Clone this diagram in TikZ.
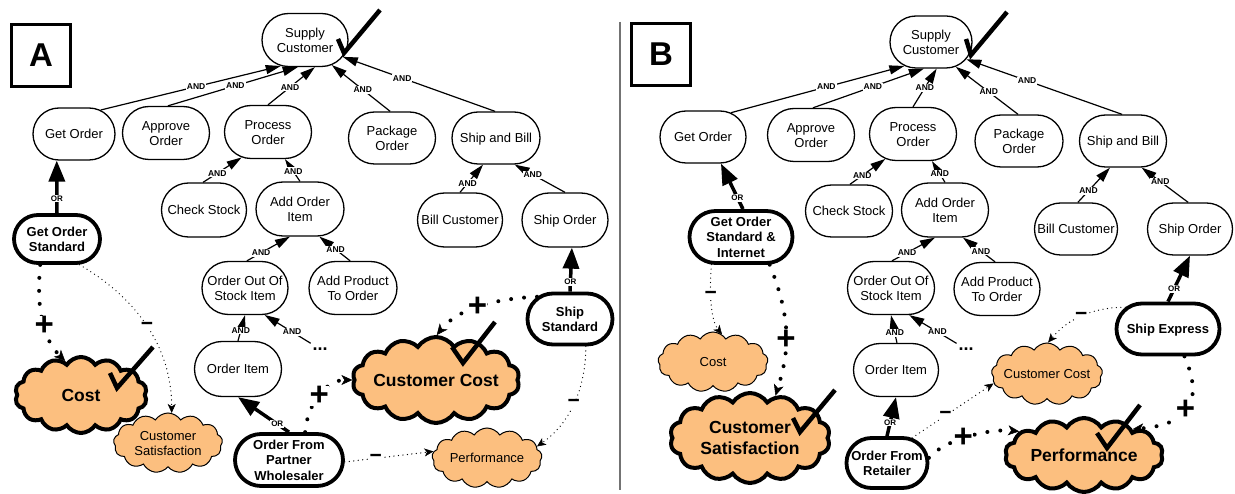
\documentclass[tikz,border=0pt]{standalone}
\usepackage{fontspec}
\setmainfont{Liberation Sans}
\usetikzlibrary{arrows.meta,shapes.symbols,shapes.misc}
\definecolor{softfill}{RGB}{252,191,127}
% centred text of zero size, so that a node's size comes from its minimum size only
\newcommand{\zbox}[1]{\raisebox{-0.37em}[0pt][0pt]{\makebox[0pt]{\begin{tabular}{@{}c@{}}#1\end{tabular}}}}
\tikzset{
  task/.style={rounded rectangle, draw, line width=1.3pt, minimum width=86pt,
    minimum height=53pt, inner sep=0pt, fill=white,
    font=\fontsize{13}{15.5}\selectfont},
  optn/.style={task, line width=3.8pt, font=\bfseries\fontsize{13}{15.5}\selectfont},
  soft/.style={cloud, cloud puffs=13, cloud puff arc=115, cloud ignores aspect, draw,
    fill=softfill, line width=1pt, inner sep=0pt, font=\fontsize{13}{15.5}\selectfont},
  softsel/.style={soft, cloud puffs=14, line width=4pt, font=\bfseries\fontsize{17.5}{21}\selectfont},
  panel/.style={draw, line width=3pt, minimum width=59pt, minimum height=62pt,
    inner sep=0pt, font=\bfseries\fontsize{33}{33}\selectfont},
  andarr/.style={line width=1.2pt, -{Triangle[length=15pt,width=9pt]}},
  orarr/.style={line width=3.5pt, -{Triangle[length=21pt,width=16pt]}},
  andlbl/.style={font=\bfseries\fontsize{8.5}{8.5}\selectfont, fill=white, inner sep=1pt},
  orlbl/.style={font=\bfseries\fontsize{8}{8}\selectfont, fill=white, inner sep=1pt},
  pluslink/.style={line width=4pt, line cap=round, dash pattern=on 0pt off 13pt,
    -{Stealth[length=11pt,width=10pt,inset=3pt,line width=0.5pt]}},
  minuslink/.style={line width=1.3pt, line cap=round, dash pattern=on 0pt off 4.5pt,
    -{Stealth[length=9pt,width=8pt,inset=2.5pt,line width=0.5pt]}},
  pm/.style={font=\bfseries\fontsize{33}{33}\selectfont, fill=white, inner sep=0pt},
  mn/.style={font=\bfseries\fontsize{21}{21}\selectfont, fill=white, inner sep=0.5pt},
  more/.style={font=\bfseries\fontsize{18}{18}\selectfont, inner sep=0pt},
  tick/.style={line width=4.5pt},
}
\begin{document}
\begin{tikzpicture}[x=1pt, y=-1pt]
\fill[white] (0,0) rectangle (1235,494);
\useasboundingbox (0,0) rectangle (1235,494);

% separator between the two panels
\draw[black!55, line width=1.5pt] (620,22) -- (620,490);

% ---------------- panel A ----------------
\node[panel] (pa) at (41,55.5) {A};

\node[task] (asc) at (305,40) {\zbox{Supply\\Customer}};
\node[task, minimum width=82pt, minimum height=52pt] (ago) at (74,134) {\zbox{Get Order}};
\node[task, minimum width=87pt] (aap) at (166,133) {\zbox{Approve\\Order}};
\node[task, minimum width=87pt] (apo) at (268,132) {\zbox{Process\\Order}};
\node[task, minimum width=87pt, minimum height=52pt] (apk) at (392,138) {\zbox{Package\\Order}};
\node[task, minimum width=88pt, minimum height=52pt] (asb) at (496,138) {\zbox{Ship and Bill}};
\node[task, minimum width=85pt, minimum height=54pt] (acs) at (204,210) {\zbox{Check Stock}};
\node[task, minimum width=88pt, minimum height=54pt] (aai) at (300,209) {\zbox{Add Order\\Item}};
\node[task] (aoos) at (245,288) {\zbox{Order Out Of\\Stock Item}};
\node[task, minimum width=88pt] (aapo) at (353,288) {\zbox{Add Product\\To Order}};
\node[task, minimum width=87pt, minimum height=55pt] (aoi) at (238,369) {\zbox{Order Item}};
\node[task, minimum width=85pt, minimum height=54pt] (abc) at (460,220) {\zbox{Bill Customer}};
\node[task, minimum height=54pt] (aso) at (565,220) {\zbox{Ship Order}};
\node[more] (adots) at (320,349) {...};

\node[optn, minimum width=86pt, minimum height=48pt] (agos) at (57,239) {\zbox{Get Order\\Standard}};
\node[optn, minimum width=85pt, minimum height=51pt] (ass) at (570,319) {\zbox{Ship\\Standard}};
\node[optn, minimum width=108pt, minimum height=52pt] (aofw) at (289,460) {\zbox{Order From\\Partner\\Wholesaler}};

\node[softsel, minimum width=132pt, minimum height=76pt] (acost) at (81,395) {\zbox{Cost}};
\node[soft, minimum width=109pt, minimum height=60pt] (acsat) at (168,443) {\zbox{Customer\\Satisfaction}};
\node[softsel, minimum width=167pt, minimum height=86pt] (acc) at (436,380) {\zbox{Customer Cost}};
\node[soft, minimum width=110pt, minimum height=60pt] (aperf) at (487,458) {\zbox{Performance}};

% decompositions
\draw[andarr] (ago.42) -- node[andlbl,pos=.53]{AND} (asc.227);
\draw[andarr] (aap.86) -- node[andlbl,pos=.52]{AND} (asc.255);
\draw[andarr] (apo.90) -- node[andlbl,pos=.47]{AND} (asc.290);
\draw[andarr] (apk.94) -- node[andlbl,pos=.47]{AND} (asc.317);
\draw[andarr] (asb.92) -- node[andlbl,pos=.61]{AND} (asc.336);
\draw[andarr] (acs.92) -- node[andlbl,pos=.37]{AND} (apo.224);
\draw[andarr] (aai.90) -- node[andlbl,pos=.45]{AND} (apo.302);
\draw[andarr] (aoos.86) -- node[andlbl,pos=.33]{AND} (aai.250);
\draw[andarr] (aapo.96) -- node[andlbl,pos=.47]{AND} (aai.305);
\draw[andarr] (aoi.90) -- node[andlbl,pos=.4]{AND} (aoos.270);
\draw[andarr, shorten <=8pt] (adots) -- node[andlbl,pos=.48]{AND} (aoos.306);
\draw[andarr] (abc.90) -- node[andlbl,pos=.33]{AND} (asb.244);
\draw[andarr] (aso.90) -- node[andlbl,pos=.64]{AND} (asb.305);
\draw[orarr] (agos.90) -- node[orlbl,pos=.28]{OR} (ago.237);
\draw[orarr] (ass.90) -- node[orlbl,pos=.22]{OR} (aso.284);
\draw[orarr] (aofw.90) -- node[orlbl,pos=.23]{OR} (aoi.270);

% contributions
\draw[pluslink] (agos.237) .. controls +(-4,45) and +(-22,-22) .. node[pm,pos=.55]{+} (acost.115);
\draw[minuslink] (agos.311) .. controls +(57,33) and +(0,-66) .. node[mn,pos=.5]{−} (acsat.83);
\draw[pluslink] (ass.146) .. controls +(-45,2) and +(20,-25) .. node[pm,pos=.5]{+} (acc.89);
\draw[minuslink] (ass.300) .. controls +(0,42) and +(33,-23) .. node[mn,pos=.5]{−} (aperf.13);
\draw[pluslink] (aofw.60) .. controls +(2,-27) and +(-27,0) .. node[pm,pos=.5]{+} (acc.180);
\draw[minuslink] (aofw.358) -- node[mn,pos=.35]{−} (aperf.173);

% satisfied marks
\draw[tick] (338,39) -- (344,53) -- (380,10);
\draw[tick] (110,373) -- (117,388) -- (153,347);
\draw[tick] (452,347) -- (463,363) -- (495,322);

% ---------------- panel B ----------------
\node[panel] (pb) at (661,54.5) {B};

\node[task, minimum width=82pt, minimum height=52pt] (bsc) at (931,42) {\zbox{Supply\\Customer}};
\node[task, minimum width=86pt, minimum height=52pt] (bgo) at (703,137) {\zbox{Get Order}};
\node[task, minimum width=87pt] (bap) at (811,135) {\zbox{Approve\\Order}};
\node[task, minimum width=87pt] (bpo) at (913,134) {\zbox{Process\\Order}};
\node[task, minimum width=88pt, minimum height=52pt] (bpk) at (1019,141) {\zbox{Package\\Order}};
\node[task, minimum width=87pt, minimum height=52pt] (bsb) at (1123,141) {\zbox{Ship and Bill}};
\node[task, minimum width=87pt, minimum height=52pt] (bcs) at (849,211) {\zbox{Check Stock}};
\node[task, minimum width=87pt, minimum height=54pt] (bai) at (945,210) {\zbox{Add Order\\Item}};
\node[task, minimum width=87pt] (boos) at (891,288) {\zbox{Order Out Of\\Stock Item}};
\node[task, minimum width=86pt] (bapo) at (997,289) {\zbox{Add Product\\To Order}};
\node[task, minimum width=85pt] (boi) at (896,370) {\zbox{Order Item}};
\node[task, minimum width=83pt, minimum height=52pt] (bbc) at (1076,229) {\zbox{Bill Customer}};
\node[task, minimum width=85pt, minimum height=52pt] (bso) at (1190,229) {\zbox{Ship Order}};
\node[more] (bdots) at (966,349) {...};

\node[optn, minimum width=103pt, minimum height=52pt] (bgos) at (741,237) {\zbox{Get Order\\Standard \&\\Internet}};
\node[optn, minimum width=103pt, minimum height=51pt] (bse) at (1168,329) {\zbox{Ship Express}};
\node[optn, minimum width=81pt, minimum height=50pt] (bofr) at (887,463) {\zbox{Order From\\Retailer}};

\node[soft, minimum width=110pt, minimum height=60pt] (bcost) at (713,362) {\zbox{Cost}};
\node[softsel, minimum width=160pt, minimum height=90pt] (bcsat) at (750,438) {\zbox{Customer\\Satisfaction}};
\node[soft, minimum width=111pt, minimum height=62pt] (bcc) at (1047,374) {\zbox{Customer Cost}};
\node[softsel, minimum width=158pt, minimum height=74pt] (bperf) at (1084,455) {\zbox{Performance}};

% decompositions
\draw[andarr] (bgo.41) -- node[andlbl,pos=.55]{AND} (bsc.222);
\draw[andarr] (bap.86) -- node[andlbl,pos=.54]{AND} (bsc.255);
\draw[andarr] (bpo.90) -- node[andlbl,pos=.5]{AND} (bsc.282);
\draw[andarr] (bpk.92) -- node[andlbl,pos=.47]{AND} (bsc.315);
\draw[andarr] (bsb.92) -- node[andlbl,pos=.61]{AND} (bsc.334);
\draw[andarr] (bcs.88) -- node[andlbl,pos=.35]{AND} (bpo.222);
\draw[andarr] (bai.90) -- node[andlbl,pos=.4]{AND} (bpo.305);
\draw[andarr] (boos.88) -- node[andlbl,pos=.35]{AND} (bai.250);
\draw[andarr] (bapo.94) -- node[andlbl,pos=.44]{AND} (bai.303);
\draw[andarr] (boi.88) -- node[andlbl,pos=.36]{AND} (boos.270);
\draw[andarr, shorten <=8pt] (bdots) -- node[andlbl,pos=.48]{AND} (boos.304);
\draw[andarr] (bbc.86) -- node[andlbl,pos=.33]{AND} (bsb.244);
\draw[andarr] (bso.94) -- node[andlbl,pos=.6]{AND} (bsb.305);
\draw[orarr] (bgos.86) -- node[orlbl,pos=.25]{OR} (bgo.304);
\draw[orarr] (bse.90) -- node[orlbl,pos=.28]{OR} (bso.270);
\draw[orarr] (bofr.90) -- node[orlbl,pos=.35]{OR} (boi.270);

% contributions
\draw[minuslink] (bgos.223) .. controls +(-2,25) and +(-12,-15) .. node[mn,pos=.4]{−} (bcost.72);
\draw[pluslink] (bgos.316) .. controls +(22,55) and +(14,-45) .. node[pm,pos=.55]{+} (bcsat.59);
\draw[minuslink] (bse.153) .. controls +(-40,0) and +(15,-18) .. node[mn,pos=.45]{−} (bcc.88);
\draw[pluslink] (bse.301) .. controls +(22,50) and +(50,-4) .. node[pm,pos=.5]{+} (bperf.28);
\draw[minuslink] (bofr.45) -- node[mn,pos=.41]{−} (bcc.190);
\draw[pluslink] (bofr.7) .. controls +(15,-18) and +(-30,-3) .. node[pm,pos=.45]{+} (bperf.160);

% satisfied marks
\draw[tick] (966,39) -- (971,55) -- (1007,12);
\draw[tick] (793,418) -- (800,432) -- (835,390);
\draw[tick] (1097,433) -- (1107,448) -- (1140,405);
\end{tikzpicture}
\end{document}
